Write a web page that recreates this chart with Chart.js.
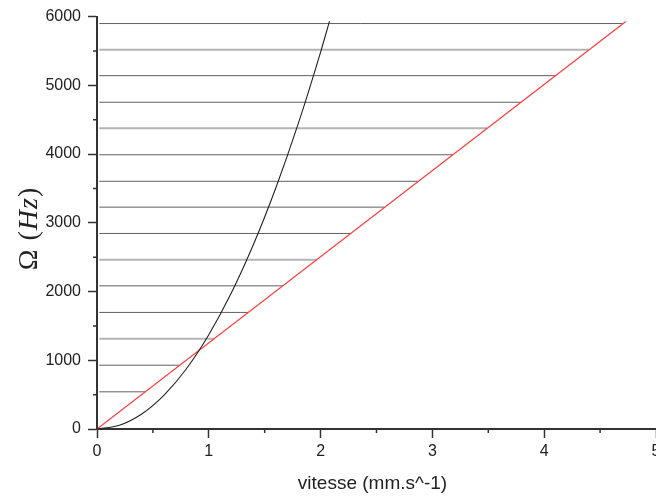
<!DOCTYPE html>
<html>
<head>
<meta charset="utf-8">
<script src="https://cdn.jsdelivr.net/npm/chart.js@4"></script>
<style>
  html, body { margin: 0; padding: 0; background: #fff; overflow: hidden; }
  #chart { display: block; }
</style>
</head>
<body>
<canvas id="chart" width="670" height="497"></canvas>
<script>
// black curve (vitesse, Omega)
const curveV = [0, 0.2, 0.4, 0.6, 0.8, 1.0, 1.2, 1.4, 1.6, 1.8, 2.0, 2.08];
const curveF = [0, 55, 219, 494, 877, 1371, 1974, 2687, 3510, 4442, 5484, 5935];

// red straight line
const lineV = [0, 4.73];
const lineF = [0, 5930];

// horizontal levels and where they stop on the red line
const levels = [5899, 5517, 5141, 4754, 4377, 3990, 3604, 3228, 2845, 2464, 2083, 1696, 1314, 928, 541];
const levelEnds = [4.70, 4.40, 4.10, 3.79, 3.49, 3.18, 2.87, 2.57, 2.27, 1.965, 1.66, 1.35, 1.05, 0.74, 0.43];
const levelStart = 0.02;
const faintLevels = [5517, 4377, 2464, 1314];

const xTicks = [0, 1, 2, 3, 4, 5];
const yTicks = [0, 1000, 2000, 3000, 4000, 5000, 6000];

const datasets = [
  {
    data: curveV.map((v, i) => ({ x: v, y: curveF[i] })),
    borderColor: '#222',
    borderWidth: 1.1,
    cubicInterpolationMode: 'monotone'
  },
  {
    data: lineV.map((v, i) => ({ x: v, y: lineF[i] })),
    borderColor: '#ff3c3c',
    borderWidth: 1.2
  }
];
levels.forEach((f, i) => {
  const faint = faintLevels.includes(f);
  datasets.push({
    data: [{ x: levelStart, y: f }, { x: levelEnds[i], y: f }],
    borderColor: faint ? '#b4b4b4' : '#606060',
    borderWidth: faint ? 2 : 1
  });
});

const axisFont = { family: 'Liberation Sans, Arial, sans-serif', size: 16 };

const extras = {
  id: 'extras',
  afterDraw(chart) {
    const ctx = chart.ctx;
    const xs = chart.scales.x, ys = chart.scales.y;
    const area = chart.chartArea;
    ctx.save();
    // minor ticks
    ctx.strokeStyle = '#333';
    ctx.lineWidth = 1.5;
    ctx.beginPath();
    for (let i = 0; i < xTicks.length - 1; i++) {
      const px = xs.getPixelForValue(xTicks[i] + 0.5);
      ctx.moveTo(px, area.bottom);
      ctx.lineTo(px, area.bottom + 4);
    }
    for (let i = 0; i < yTicks.length - 1; i++) {
      const py = ys.getPixelForValue(yTicks[i] + 500);
      ctx.moveTo(area.left, py);
      ctx.lineTo(area.left - 4, py);
    }
    ctx.stroke();

    // x title
    ctx.fillStyle = '#222';
    ctx.font = '19px "Liberation Sans", Arial, sans-serif';
    ctx.textAlign = 'center';
    ctx.textBaseline = 'middle';
    ctx.fillText('vitesse (mm.s^-1)', (area.left + area.right) / 2 - 4, 484);

    // y title: Ω (Hz), Hz in italic
    const serif = '"Liberation Serif", "DejaVu Serif", serif';
    const parts = [
      ['Ω', '28px ' + serif, 9],
      ['(', '28px ' + serif, 1],
      ['H', 'italic 28px ' + serif, 1],
      ['z', 'italic 28px ' + serif, 1],
      [')', '28px ' + serif, 0]
    ];
    let total = 0;
    parts.forEach(p => { ctx.font = p[1]; total += ctx.measureText(p[0]).width + p[2]; });
    ctx.translate(30, 229);
    ctx.rotate(-Math.PI / 2);
    ctx.textAlign = 'left';
    let cx = -total / 2;
    parts.forEach(p => {
      ctx.font = p[1];
      ctx.fillText(p[0], cx, 0);
      cx += ctx.measureText(p[0]).width + p[2];
    });
    ctx.restore();
  }
};

new Chart(document.getElementById('chart'), {
  type: 'line',
  data: { datasets },
  options: {
    responsive: false,
    devicePixelRatio: 1,
    animation: false,
    elements: { point: { radius: 0 }, line: { fill: false } },
    layout: { padding: { top: 15, right: 14, bottom: 0, left: 0 } },
    plugins: { legend: { display: false }, tooltip: { enabled: false } },
    scales: {
      x: {
        type: 'linear',
        min: 0,
        max: 5,
        afterBuildTicks: s => { s.ticks = xTicks.map(v => ({ value: v })); },
        afterFit: s => { s.height = 68; },
        border: { color: '#333', width: 2 },
        grid: { drawOnChartArea: false, drawTicks: true, tickLength: 9, tickColor: '#333', tickWidth: 1.5 },
        ticks: { color: '#222', font: axisFont, padding: 4, maxRotation: 0, callback: v => String(v) }
      },
      y: {
        type: 'linear',
        min: 0,
        max: 6000,
        afterBuildTicks: s => { s.ticks = yTicks.map(v => ({ value: v })); },
        afterFit: s => { s.width = 97; },
        border: { color: '#333', width: 2 },
        grid: { drawOnChartArea: false, drawTicks: true, tickLength: 9, tickColor: '#333', tickWidth: 1.5 },
        ticks: { color: '#222', font: axisFont, padding: 7, callback: v => String(v) }
      }
    }
  },
  plugins: [extras]
});
</script>
</body>
</html>
